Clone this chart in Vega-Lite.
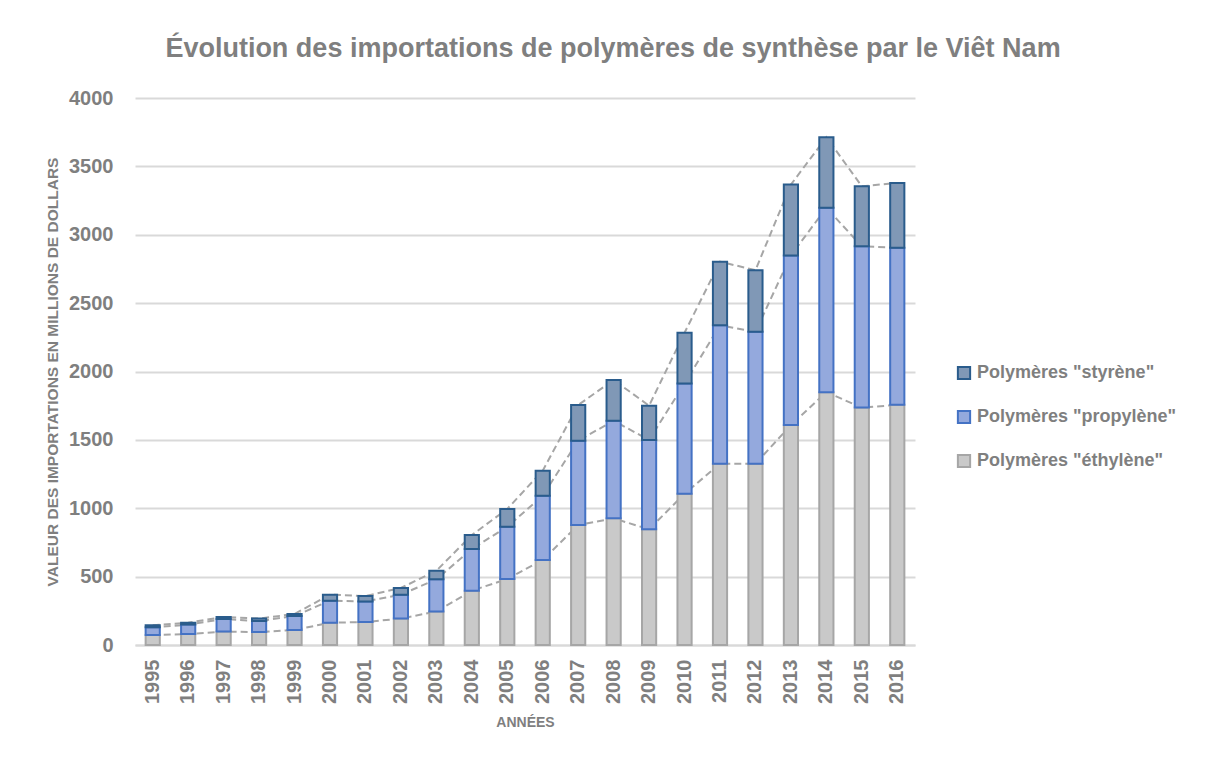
{
  "$schema": "https://vega.github.io/schema/vega-lite/v6.json",
  "autosize": {"type": "none"},
  "width": 780,
  "height": 547,
  "padding": {"left": 135, "top": 98, "right": 300, "bottom": 118},
  "background": "white",
  "title": {
    "text": "Évolution des importations de polymères de synthèse par le Viêt Nam",
    "fontSize": 27,
    "font": "Liberation Sans",
    "fontWeight": "bold",
    "color": "#7f7f7f",
    "anchor": "middle",
    "frame": "group",
    "dx": 88,
    "offset": 25
  },
  "data": {
    "values": [
      {"annee": "1995", "serie": "Polymères \"éthylène\"", "rang": 1, "valeur": 73},
      {"annee": "1995", "serie": "Polymères \"propylène\"", "rang": 2, "valeur": 56},
      {"annee": "1995", "serie": "Polymères \"styrène\"", "rang": 3, "valeur": 15},
      {"annee": "1996", "serie": "Polymères \"éthylène\"", "rang": 1, "valeur": 80},
      {"annee": "1996", "serie": "Polymères \"propylène\"", "rang": 2, "valeur": 69},
      {"annee": "1996", "serie": "Polymères \"styrène\"", "rang": 3, "valeur": 14},
      {"annee": "1997", "serie": "Polymères \"éthylène\"", "rang": 1, "valeur": 98},
      {"annee": "1997", "serie": "Polymères \"propylène\"", "rang": 2, "valeur": 92},
      {"annee": "1997", "serie": "Polymères \"styrène\"", "rang": 3, "valeur": 15},
      {"annee": "1998", "serie": "Polymères \"éthylène\"", "rang": 1, "valeur": 95},
      {"annee": "1998", "serie": "Polymères \"propylène\"", "rang": 2, "valeur": 80},
      {"annee": "1998", "serie": "Polymères \"styrène\"", "rang": 3, "valeur": 18},
      {"annee": "1999", "serie": "Polymères \"éthylène\"", "rang": 1, "valeur": 110},
      {"annee": "1999", "serie": "Polymères \"propylène\"", "rang": 2, "valeur": 102},
      {"annee": "1999", "serie": "Polymères \"styrène\"", "rang": 3, "valeur": 15},
      {"annee": "2000", "serie": "Polymères \"éthylène\"", "rang": 1, "valeur": 163},
      {"annee": "2000", "serie": "Polymères \"propylène\"", "rang": 2, "valeur": 161},
      {"annee": "2000", "serie": "Polymères \"styrène\"", "rang": 3, "valeur": 44},
      {"annee": "2001", "serie": "Polymères \"éthylène\"", "rang": 1, "valeur": 168},
      {"annee": "2001", "serie": "Polymères \"propylène\"", "rang": 2, "valeur": 151},
      {"annee": "2001", "serie": "Polymères \"styrène\"", "rang": 3, "valeur": 39},
      {"annee": "2002", "serie": "Polymères \"éthylène\"", "rang": 1, "valeur": 193},
      {"annee": "2002", "serie": "Polymères \"propylène\"", "rang": 2, "valeur": 175},
      {"annee": "2002", "serie": "Polymères \"styrène\"", "rang": 3, "valeur": 49},
      {"annee": "2003", "serie": "Polymères \"éthylène\"", "rang": 1, "valeur": 245},
      {"annee": "2003", "serie": "Polymères \"propylène\"", "rang": 2, "valeur": 235},
      {"annee": "2003", "serie": "Polymères \"styrène\"", "rang": 3, "valeur": 63},
      {"annee": "2004", "serie": "Polymères \"éthylène\"", "rang": 1, "valeur": 397},
      {"annee": "2004", "serie": "Polymères \"propylène\"", "rang": 2, "valeur": 305},
      {"annee": "2004", "serie": "Polymères \"styrène\"", "rang": 3, "valeur": 102},
      {"annee": "2005", "serie": "Polymères \"éthylène\"", "rang": 1, "valeur": 483},
      {"annee": "2005", "serie": "Polymères \"propylène\"", "rang": 2, "valeur": 382},
      {"annee": "2005", "serie": "Polymères \"styrène\"", "rang": 3, "valeur": 130},
      {"annee": "2006", "serie": "Polymères \"éthylène\"", "rang": 1, "valeur": 622},
      {"annee": "2006", "serie": "Polymères \"propylène\"", "rang": 2, "valeur": 470},
      {"annee": "2006", "serie": "Polymères \"styrène\"", "rang": 3, "valeur": 183},
      {"annee": "2007", "serie": "Polymères \"éthylène\"", "rang": 1, "valeur": 877},
      {"annee": "2007", "serie": "Polymères \"propylène\"", "rang": 2, "valeur": 617},
      {"annee": "2007", "serie": "Polymères \"styrène\"", "rang": 3, "valeur": 261},
      {"annee": "2008", "serie": "Polymères \"éthylène\"", "rang": 1, "valeur": 926},
      {"annee": "2008", "serie": "Polymères \"propylène\"", "rang": 2, "valeur": 714},
      {"annee": "2008", "serie": "Polymères \"styrène\"", "rang": 3, "valeur": 298},
      {"annee": "2009", "serie": "Polymères \"éthylène\"", "rang": 1, "valeur": 846},
      {"annee": "2009", "serie": "Polymères \"propylène\"", "rang": 2, "valeur": 653},
      {"annee": "2009", "serie": "Polymères \"styrène\"", "rang": 3, "valeur": 251},
      {"annee": "2010", "serie": "Polymères \"éthylène\"", "rang": 1, "valeur": 1106},
      {"annee": "2010", "serie": "Polymères \"propylène\"", "rang": 2, "valeur": 806},
      {"annee": "2010", "serie": "Polymères \"styrène\"", "rang": 3, "valeur": 371},
      {"annee": "2011", "serie": "Polymères \"éthylène\"", "rang": 1, "valeur": 1326},
      {"annee": "2011", "serie": "Polymères \"propylène\"", "rang": 2, "valeur": 1012},
      {"annee": "2011", "serie": "Polymères \"styrène\"", "rang": 3, "valeur": 465},
      {"annee": "2012", "serie": "Polymères \"éthylène\"", "rang": 1, "valeur": 1326},
      {"annee": "2012", "serie": "Polymères \"propylène\"", "rang": 2, "valeur": 964},
      {"annee": "2012", "serie": "Polymères \"styrène\"", "rang": 3, "valeur": 451},
      {"annee": "2013", "serie": "Polymères \"éthylène\"", "rang": 1, "valeur": 1608},
      {"annee": "2013", "serie": "Polymères \"propylène\"", "rang": 2, "valeur": 1241},
      {"annee": "2013", "serie": "Polymères \"styrène\"", "rang": 3, "valeur": 518},
      {"annee": "2014", "serie": "Polymères \"éthylène\"", "rang": 1, "valeur": 1849},
      {"annee": "2014", "serie": "Polymères \"propylène\"", "rang": 2, "valeur": 1348},
      {"annee": "2014", "serie": "Polymères \"styrène\"", "rang": 3, "valeur": 516},
      {"annee": "2015", "serie": "Polymères \"éthylène\"", "rang": 1, "valeur": 1736},
      {"annee": "2015", "serie": "Polymères \"propylène\"", "rang": 2, "valeur": 1179},
      {"annee": "2015", "serie": "Polymères \"styrène\"", "rang": 3, "valeur": 439},
      {"annee": "2016", "serie": "Polymères \"éthylène\"", "rang": 1, "valeur": 1756},
      {"annee": "2016", "serie": "Polymères \"propylène\"", "rang": 2, "valeur": 1149},
      {"annee": "2016", "serie": "Polymères \"styrène\"", "rang": 3, "valeur": 474}
    ]
  },
  "transform": [
    {"stack": "valeur", "groupby": ["annee"], "sort": [{"field": "rang", "order": "ascending"}], "as": ["y0", "y1"]}
  ],
  "encoding": {
    "x": {
      "field": "annee",
      "type": "ordinal",
      "scale": {"paddingInner": 0.6, "paddingOuter": 0.3},
      "axis": {
        "title": "ANNÉES",
        "labelAngle": -90,
        "labelAlign": "right",
        "labelBaseline": "middle",
        "labelFontSize": 20,
        "labelFontWeight": "bold",
        "labelColor": "#7f7f7f",
        "labelFont": "Liberation Sans",
        "labelPadding": 14,
        "ticks": false,
        "domainColor": "#d9d9d9",
        "domainWidth": 2,
        "titleFontSize": 14,
        "titleFontWeight": "bold",
        "titleColor": "#7f7f7f",
        "titleFont": "Liberation Sans",
        "titlePadding": 12
      }
    }
  },
  "layer": [
    {
      "mark": {"type": "line", "strokeDash": [7, 4], "strokeWidth": 2, "color": "#a6a6a6"},
      "encoding": {
        "y": {"field": "y1", "type": "quantitative"},
        "detail": {"field": "serie"}
      }
    },
    {
      "mark": {"type": "bar", "strokeWidth": 2, "strokeOpacity": 1},
      "encoding": {
        "y": {
          "field": "y0",
          "type": "quantitative",
          "scale": {"domain": [0, 4000]},
          "axis": {
            "title": "VALEUR DES IMPORTATIONS EN MILLIONS DE DOLLARS",
            "values": [0, 500, 1000, 1500, 2000, 2500, 3000, 3500, 4000],
            "format": "d",
            "labelFontSize": 20,
            "labelFontWeight": "bold",
            "labelColor": "#7f7f7f",
            "labelFont": "Liberation Sans",
            "labelPadding": 22,
            "ticks": false,
            "domain": false,
            "grid": true,
            "gridColor": "#d9d9d9",
            "gridWidth": 2,
            "titleFontSize": 15.5,
            "titleFontWeight": "bold",
            "titleColor": "#7f7f7f",
            "titleFont": "Liberation Sans",
            "titlePadding": 8
          }
        },
        "y2": {"field": "y1"},
        "order": {"field": "rang"},
        "fill": {
          "field": "serie",
          "type": "nominal",
          "scale": {
            "domain": ["Polymères \"styrène\"", "Polymères \"propylène\"", "Polymères \"éthylène\""],
            "range": ["#8098b6", "#94a9dd", "#c9c9c9"]
          },
          "legend": {
            "title": null,
            "orient": "none",
            "legendX": 820,
            "legendY": 266,
            "symbolType": "square",
            "symbolSize": 150,
            "symbolStrokeWidth": 2,
            "labelFontSize": 18,
            "labelFontWeight": "bold",
            "labelColor": "#7f7f7f",
            "labelFont": "Liberation Sans",
            "labelLimit": 400,
            "rowPadding": 22,
            "labelOffset": 4
          }
        },
        "stroke": {
          "field": "serie",
          "type": "nominal",
          "scale": {
            "domain": ["Polymères \"styrène\"", "Polymères \"propylène\"", "Polymères \"éthylène\""],
            "range": ["#2a5c8c", "#4472c4", "#a6a6a6"]
          },
          "legend": null
        }
      }
    }
  ],
  "config": {
    "view": {"stroke": null},
    "font": "Liberation Sans"
  }
}
